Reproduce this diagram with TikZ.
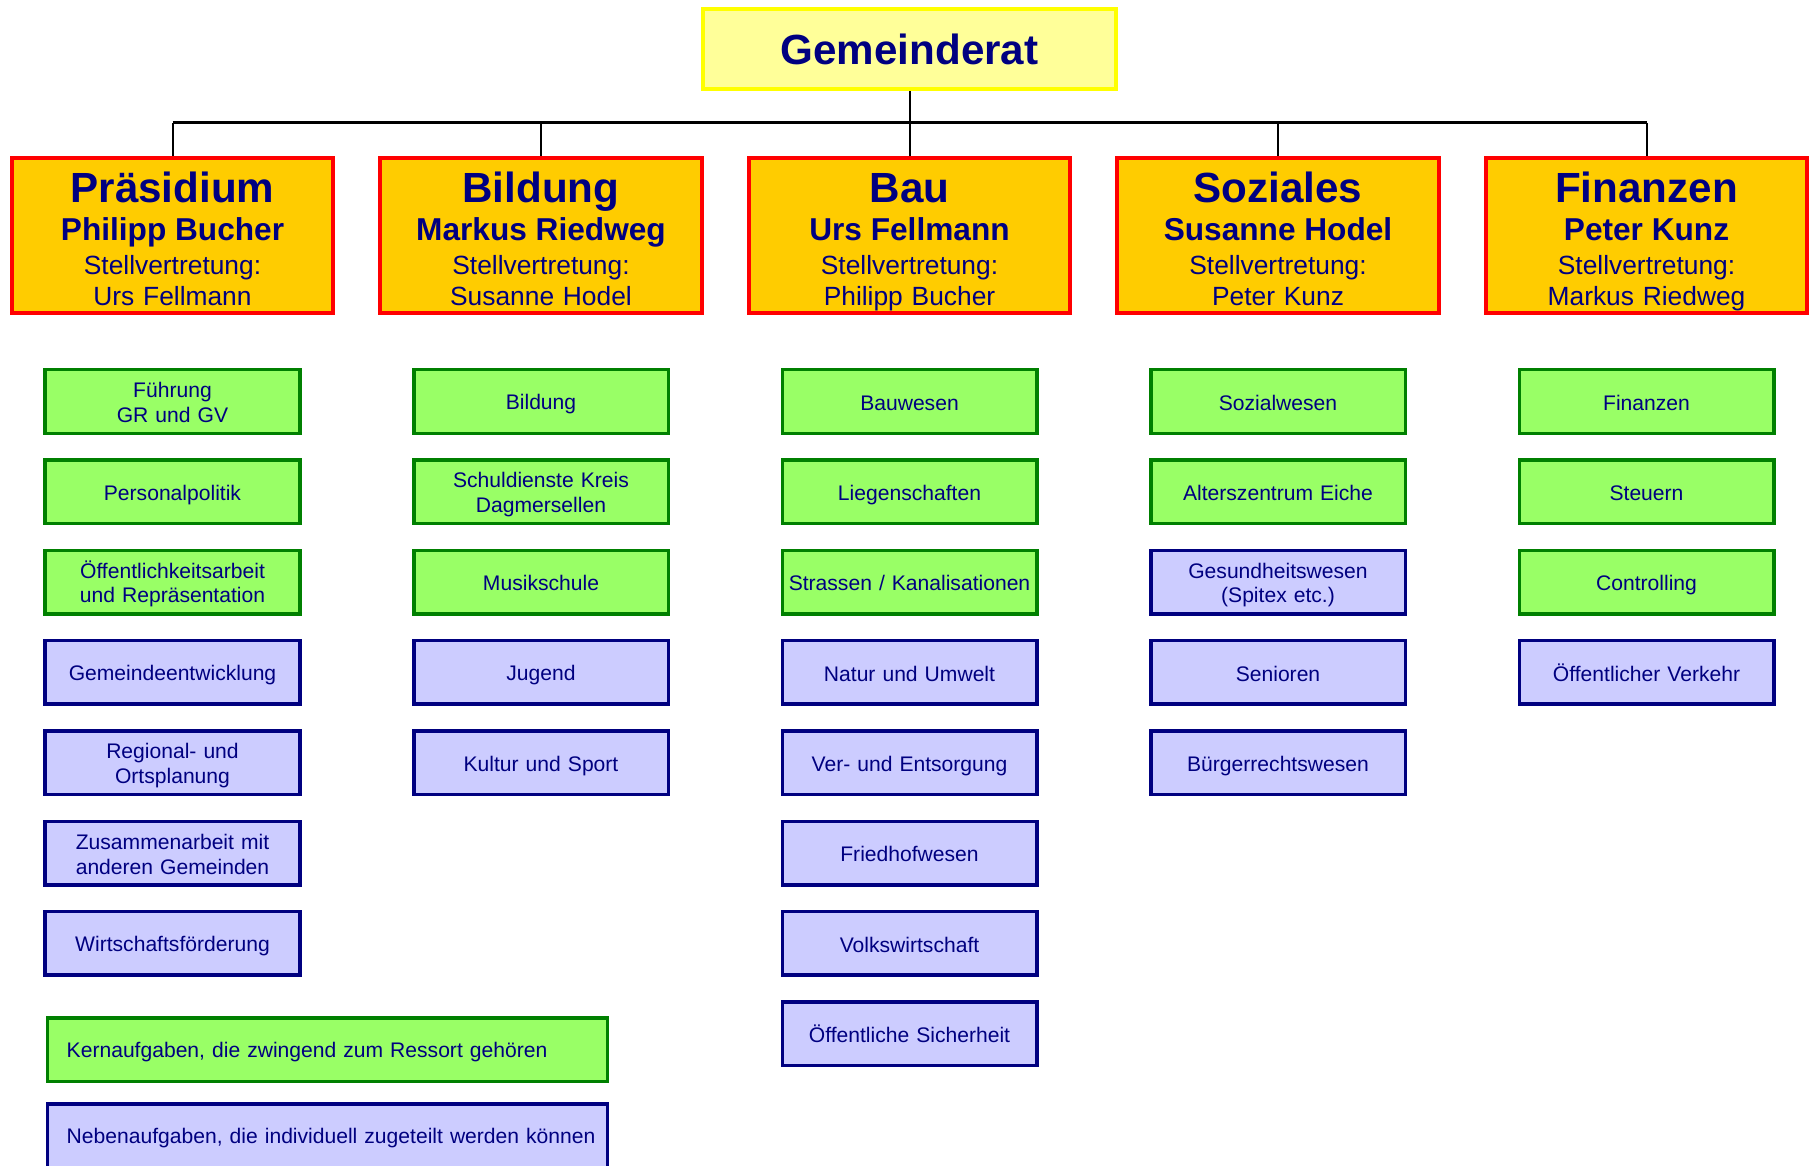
\documentclass[tikz,border=0pt]{standalone}
\usepackage{fontspec}
\setmainfont{Liberation Sans}
\usepackage{xcolor}
\usepackage{tikz}

\definecolor{navy}{RGB}{0,0,128}
\definecolor{grfill}{RGB}{255,255,153}
\definecolor{grdraw}{RGB}{255,255,0}
\definecolor{depfill}{RGB}{255,204,0}
\definecolor{depdraw}{RGB}{255,0,0}
\definecolor{kernfill}{RGB}{153,255,102}
\definecolor{kerndraw}{RGB}{0,128,0}
\definecolor{nebenfill}{RGB}{204,204,255}

\tikzstyle{gr} = [rectangle, minimum width=8.26cm, minimum height=1.6cm, text centered, draw=grdraw, fill=grfill, line width=0.08cm, text=navy, font=\fontsize{24}{28}\selectfont\bfseries]
\tikzstyle{dep} = [rectangle, minimum width=6.34cm, minimum height=3.1cm, text width=6.2cm, inner ysep=0pt, text centered, draw=depdraw, fill=depfill, line width=0.08cm, text=navy, font=\fontsize{15}{17}\selectfont,
  execute at begin node={\lineskiplimit=-20pt\relax\rule{0pt}{24pt}}, execute at end node={\rule[-3.5pt]{0pt}{3.5pt}}]
\tikzstyle{kern} = [rectangle, minimum width=5.09cm, minimum height=1.27cm, text width=5cm, inner xsep=0pt, text centered, draw=kerndraw, fill=kernfill, line width=0.07cm, text=navy, font=\fontsize{12}{14}\selectfont,
  execute at begin node={\rule{0pt}{12pt}}, execute at end node={\rule[-2pt]{0pt}{2pt}}]
\tikzstyle{neben} = [kern, draw=navy, fill=nebenfill]
\tikzstyle{leg} = [minimum width=11.19cm, text width=11.19cm, align=left, execute at begin node={\hspace*{0.38cm}\rule{0pt}{12pt}}]
\tikzstyle{line} = [line width=0.04cm, black]
\tikzstyle{bus} = [line width=0.06cm, black]

\begin{document}
\begin{tikzpicture}[node distance=1.806cm]
\path [use as bounding box, clip] (-3.45,4.72) rectangle (32.73,-18.58);

% Ressorts
\node (p) [dep] {{\fontsize{24}{28}\selectfont\bfseries Präsidium}\\[5pt]{\fontsize{18}{20}\selectfont\bfseries Philipp Bucher}\\[2.3pt]Stellvertretung:\\[0.6pt]Urs Fellmann};
\node (b) [dep, node distance=7.37cm, right of=p] {{\fontsize{24}{28}\selectfont\bfseries Bildung}\\[5pt]{\fontsize{18}{20}\selectfont\bfseries Markus Riedweg}\\[2.3pt]Stellvertretung:\\[0.6pt]Susanne Hodel};
\node (ba) [dep, node distance=7.37cm, right of=b] {{\fontsize{24}{28}\selectfont\bfseries Bau}\\[5pt]{\fontsize{18}{20}\selectfont\bfseries Urs Fellmann}\\[2.3pt]Stellvertretung:\\[0.6pt]Philipp Bucher};
\node (s) [dep, node distance=7.37cm, right of=ba] {{\fontsize{24}{28}\selectfont\bfseries Soziales}\\[5pt]{\fontsize{18}{20}\selectfont\bfseries Susanne Hodel}\\[2.3pt]Stellvertretung:\\[0.6pt]Peter Kunz};
\node (f) [dep, node distance=7.37cm, right of=s] {{\fontsize{24}{28}\selectfont\bfseries Finanzen}\\[5pt]{\fontsize{18}{20}\selectfont\bfseries Peter Kunz}\\[2.3pt]Stellvertretung:\\[0.6pt]Markus Riedweg};

\node (rat) [gr, node distance=3.74cm, above of=ba] {Gemeinderat};

% Praesidium
\node (p1) [kern, node distance=3.31cm, below of=p] {Führung\\GR und GV};
\node (p2) [kern, below of=p1] {Personalpolitik};
\node (p3) [kern, below of=p2] {Öffentlichkeitsarbeit\\und Repräsentation};
\node (p4) [neben, below of=p3] {Gemeindeentwicklung};
\node (p5) [neben, below of=p4] {Regional- und\\Ortsplanung};
\node (p6) [neben, below of=p5] {Zusammenarbeit mit\\anderen Gemeinden};
\node (p7) [neben, below of=p6] {Wirtschaftsförderung};

% Bildung
\node (b1) [kern, node distance=3.31cm, below of=b] {Bildung};
\node (b2) [kern, below of=b1] {Schuldienste Kreis\\Dagmersellen};
\node (b3) [kern, below of=b2] {Musikschule};
\node (b4) [neben, below of=b3] {Jugend};
\node (b5) [neben, below of=b4] {Kultur und Sport};

% Bau
\node (ba1) [kern, node distance=3.31cm, below of=ba] {Bauwesen};
\node (ba2) [kern, below of=ba1] {Liegenschaften};
\node (ba3) [kern, below of=ba2] {Strassen / Kanalisationen};
\node (ba4) [neben, below of=ba3] {Natur und Umwelt};
\node (ba5) [neben, below of=ba4] {Ver- und Entsorgung};
\node (ba6) [neben, below of=ba5] {Friedhofwesen};
\node (ba7) [neben, below of=ba6] {Volkswirtschaft};
\node (ba8) [neben, below of=ba7] {Öffentliche Sicherheit};

% Soziales
\node (s1) [kern, node distance=3.31cm, below of=s] {Sozialwesen};
\node (s2) [kern, below of=s1] {Alterszentrum Eiche};
\node (s3) [neben, below of=s2] {Gesundheitswesen\\(Spitex etc.)};
\node (s4) [neben, below of=s3] {Senioren};
\node (s5) [neben, below of=s4] {Bürgerrechtswesen};

% Finanzen
\node (f1) [kern, node distance=3.31cm, below of=f] {Finanzen};
\node (f2) [kern, below of=f1] {Steuern};
\node (f3) [kern, below of=f2] {Controlling};
\node (f4) [neben, below of=f3] {Öffentlicher Verkehr};

% Legende
\node (leg1) [kern, leg, node distance=2.124cm, below of=p7, xshift=3.10cm] {Kernaufgaben, die zwingend zum Ressort gehören};
\node (leg2) [neben, leg, node distance=1.72cm, below of=leg1] {Nebenaufgaben, die individuell zugeteilt werden können};

\coordinate (bus) at (0,2.26);
\draw [line] (rat.south) -- (rat.south |- bus);
\draw [bus] (p.north |- bus) -- (f.north |- bus);
\foreach \d in {p,b,ba,s,f}
  \draw [line] (\d.north |- bus) -- (\d.north);

\end{tikzpicture}
\end{document}
